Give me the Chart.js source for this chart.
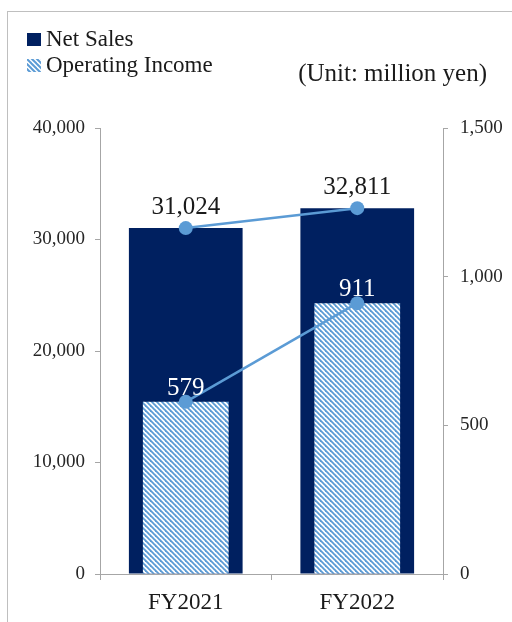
<!DOCTYPE html>
<html>
<head>
<meta charset="utf-8">
<script src="https://cdn.jsdelivr.net/npm/chart.js@4.4.0/dist/chart.umd.min.js"></script>
<style>
  body { margin: 0; background: #fff; font-family: "Liberation Serif", "Times New Roman", serif; }
  #wrap { position: relative; width: 512px; height: 622px; overflow: hidden; }
  #frame { position: absolute; left: 7px; top: 11px; width: 600px; height: 700px;
           border-left: 1px solid #bfbfbf; border-top: 1px solid #bfbfbf; }
  #chart { position: absolute; left: 0; top: 0; }
  .row { position: absolute; left: 27px; font-size: 23px; line-height: 23px; color: #1a1a1a; white-space: nowrap; }
  .sw { position: absolute; left: 0; width: 14px; height: 13px; }
  .row span.txt { position: absolute; left: 19px; top: 0; }
  #unit { position: absolute; right: 25px; top: 60px; font-size: 25px; line-height: 25px; color: #1a1a1a; white-space: nowrap; }
</style>
</head>
<body>
<div id="wrap">
  <div id="frame"></div>
  <canvas id="chart" width="512" height="622"></canvas>
  <div class="row" style="top:27px"><div class="sw" style="top:6px;background:#002060"></div><span class="txt">Net Sales</span></div>
  <div class="row" style="top:53px"><div class="sw" id="hatchSw" style="top:6px"></div><span class="txt">Operating Income</span></div>
  <div id="unit">(Unit: million yen)</div>
</div>
<script>
const categories = ['FY2021', 'FY2022'];
const netSales = [31024, 32811];
const operatingIncome = [579, 911];
const salesTicks = [0, 10000, 20000, 30000, 40000];
const incomeTicks = [0, 500, 1000, 1500];

const navy = '#002060';
const lineBlue = '#5b9bd5';
const axisGrey = '#a6a6a6';

// diagonal "\\\" stripes for the operating income bars
function makeHatch(s, w) {
    const c = document.createElement('canvas');
    c.width = s; c.height = s;
    const g = c.getContext('2d');
    g.fillStyle = '#fff';
    g.fillRect(0, 0, s, s);
    g.strokeStyle = '#5b9bd5';
    g.lineWidth = w;
    for (let k = -1; k <= 1; k++) {
        g.beginPath();
        g.moveTo(k * s - 1, -1);
        g.lineTo(k * s + s + 1, s + 1);
        g.stroke();
    }
    return c;
}

const hatchCanvas = makeHatch(5, 1.8);
document.getElementById('hatchSw').style.background = 'url(' + makeHatch(5, 2).toDataURL() + ')';

const valueLabels = {
    id: 'valueLabels',
    afterDatasetsDraw(chart) {
        const ctx = chart.ctx;
        ctx.save();
        ctx.font = '25px "Liberation Serif"';
        ctx.textAlign = 'center';
        ctx.textBaseline = 'alphabetic';
        chart.data.datasets.forEach((ds, i) => {
            if (!ds.labelColor) return;
            const meta = chart.getDatasetMeta(i);
            meta.data.forEach((pt, j) => {
                ctx.fillStyle = ds.labelColor;
                ctx.fillText(ds.data[j].toLocaleString('en-US'), pt.x, pt.y - ds.labelGap);
            });
        });
        ctx.restore();
    }
};

const ctx = document.getElementById('chart').getContext('2d');
const hatch = ctx.createPattern(hatchCanvas, 'repeat');

new Chart(ctx, {
    type: 'bar',
    data: {
        labels: categories,
        datasets: [
            {
                type: 'line',
                label: 'Net Sales',
                data: netSales,
                yAxisID: 'y',
                borderColor: lineBlue,
                backgroundColor: lineBlue,
                borderWidth: 2.5,
                pointRadius: 7,
                pointBorderWidth: 0,
                order: 0,
                labelColor: '#1a1a1a',
                labelGap: 14
            },
            {
                type: 'line',
                label: 'Operating Income',
                data: operatingIncome,
                yAxisID: 'y1',
                borderColor: lineBlue,
                backgroundColor: lineBlue,
                borderWidth: 2.5,
                pointRadius: 7,
                pointBorderWidth: 0,
                order: 0,
                labelColor: '#ffffff',
                labelGap: 7
            },
            {
                label: 'Operating Income',
                data: operatingIncome,
                yAxisID: 'y1',
                backgroundColor: hatch,
                grouped: false,
                categoryPercentage: 1,
                barPercentage: 0.5,
                order: 1
            },
            {
                label: 'Net Sales',
                data: netSales,
                yAxisID: 'y',
                backgroundColor: navy,
                grouped: false,
                categoryPercentage: 1,
                barPercentage: 0.663,
                order: 2
            }
        ]
    },
    options: {
        responsive: false,
        animation: false,
        layout: { padding: { top: 128, left: 0, right: 0, bottom: 0 } },
        plugins: {
            legend: { display: false },
            tooltip: { enabled: false }
        },
        scales: {
            x: {
                offset: true,
                grid: { offset: true, drawOnChartArea: false, tickLength: 6, color: axisGrey },
                border: { color: axisGrey },
                ticks: { color: '#1a1a1a', font: { family: 'Liberation Serif', size: 23 }, padding: 9 },
                afterFit: s => { s.height = 48; }
            },
            y: {
                position: 'left',
                min: salesTicks[0],
                max: salesTicks[salesTicks.length - 1],
                afterBuildTicks: s => { s.ticks = salesTicks.map(v => ({ value: v })); },
                grid: { drawOnChartArea: false, tickLength: 5, color: axisGrey },
                border: { color: axisGrey },
                ticks: {
                    color: '#262626',
                    font: { family: 'Liberation Serif', size: 19 },
                    padding: 10,
                    callback: v => v.toLocaleString('en-US')
                },
                afterFit: s => { s.width = 100; }
            },
            y1: {
                position: 'right',
                min: incomeTicks[0],
                max: incomeTicks[incomeTicks.length - 1],
                afterBuildTicks: s => { s.ticks = incomeTicks.map(v => ({ value: v })); },
                grid: { drawOnChartArea: false, tickLength: 5, color: axisGrey },
                border: { color: axisGrey },
                ticks: {
                    color: '#262626',
                    font: { family: 'Liberation Serif', size: 19 },
                    padding: 12,
                    callback: v => v.toLocaleString('en-US')
                },
                afterFit: s => { s.width = 69; }
            }
        }
    },
    plugins: [valueLabels]
});
</script>
</body>
</html>
